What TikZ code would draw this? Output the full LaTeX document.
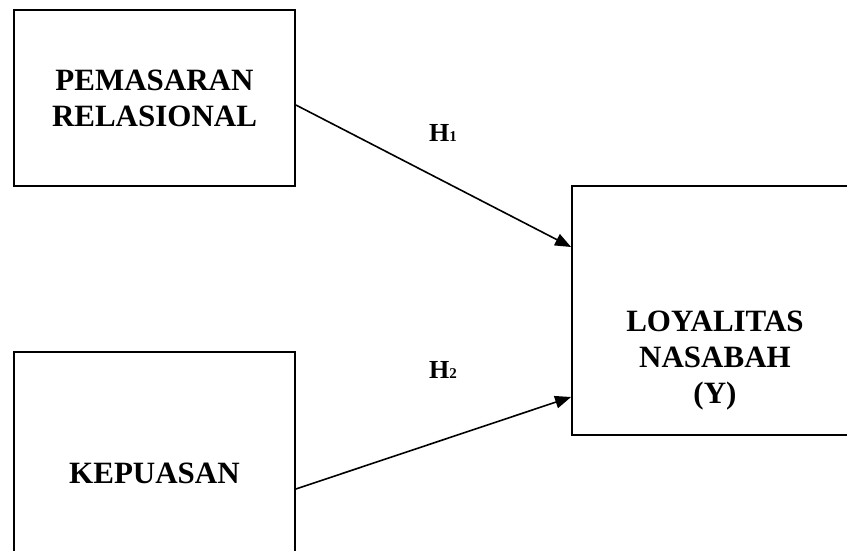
\documentclass[tikz,border=0pt]{standalone}
\usepackage{fontspec}
\setmainfont{Liberation Serif}
\usetikzlibrary{positioning,arrows.meta}

\newcommand{\hsub}[1]{{\fontsize{15}{15}\selectfont #1}}

\begin{document}
\begin{tikzpicture}[x=1pt, y=-1pt, >={Triangle[length=16pt,width=12.5pt]},
    box/.style={draw, line width=1.8pt, align=center, font=\bfseries\fontsize{31}{36}\selectfont},
    boxtext/.style={align=center, font=\bfseries\fontsize{31}{36}\selectfont},
    hyp/.style={anchor=base west, inner sep=0pt, font=\bfseries\fontsize{26}{30}\selectfont},
    link/.style={->, line width=1.6pt}]
    \useasboundingbox (0,0) rectangle (847,551);

    % Independent variables
    \node[box, minimum width=281pt, minimum height=176pt] (pemasaran) at (154.5,98) {PEMASARAN\\RELASIONAL};
    \node[box, minimum width=281pt, minimum height=242pt] (kepuasan) at (154.5,473) {KEPUASAN};

    % Dependent variable
    \node[box, minimum width=286pt, minimum height=249pt] (loyalitas) at (715,310.5) {};
    \node[boxtext] (loyalitastext) at ([yshift=-50pt]loyalitas.center) {LOYALITAS\\NASABAH\\(Y)};

    % Hypotheses
    \draw[link] ([yshift=-7pt]pemasaran.east) -- ([yshift=63.5pt]loyalitas.west);
    \draw[link] ([yshift=-16pt]kepuasan.east) -- ([yshift=-86.5pt]loyalitas.west);
    \node[hyp] (hsatu) at (429,142) {H\hsub{1}};
    \node[hyp] (hdua) at (429,378) {H\hsub{2}};
\end{tikzpicture}
\end{document}
